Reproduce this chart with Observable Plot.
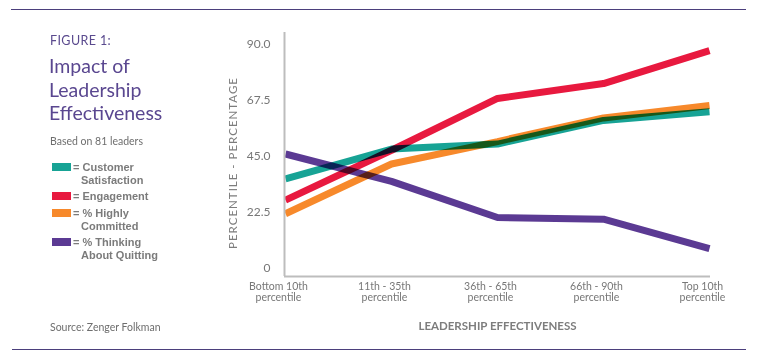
<!DOCTYPE html>
<html>
<head>
<meta charset="utf-8">
<script src="https://cdn.jsdelivr.net/npm/d3@7"></script>
<script src="https://cdn.jsdelivr.net/npm/@observablehq/plot@0.6"></script>
<style>
  body { margin: 0; background: #fff; }
  #wrap { position: relative; width: 769px; height: 363px; overflow: hidden; font-family: Lato, "Open Sans", sans-serif; }
  #wrap svg.plot { position: absolute; left: 0; top: 0; }
  .abs { position: absolute; white-space: nowrap; }
  .rule { position: absolute; height: 1px; background: #4b3f7c; }
  .fig { left: 50px; top: 33px; font-size: 12.5px; color: #5a4a8e; letter-spacing: 0.4px; }
  .title { left: 49px; top: 54px; font-size: 19.5px; line-height: 23.5px; color: #5a4790; }
  .sub { left: 50px; top: 135px; font-size: 10.5px; color: #6e6e6e; }
  .legt { font-family: "Liberation Sans", Arial, sans-serif; font-size: 11px; font-weight: 700; color: #7b7b7b; line-height: 12px; }
  .sw { position: absolute; left: 52px; width: 19px; height: 8px; }
  .src { left: 50px; top: 321px; font-size: 10.5px; color: #6e6e6e; }
  .ylab { left: 232px; top: 163px; transform: translate(-50%, -50%) rotate(-90deg); font-size: 11.5px; color: #7d7d7d; letter-spacing: 1px; }
</style>
</head>
<body>
<div id="wrap"></div>
<script>
const categories = ["Bottom 10th\npercentile", "11th - 35th\npercentile", "36th - 65th\npercentile", "66th - 90th\npercentile", "Top 10th\npercentile"];
const customerSatisfaction = [36, 48, 50, 59.5, 63];
const engagement = [27.5, 47.5, 68.3, 74.3, 87.5];
const highlyCommitted = [22, 42, 51, 60.5, 65.5];
const thinkingQuitting = [46, 35, 20.5, 19.8, 8];
const yTicks = [0, 22.5, 45, 67.5, 90];
const seriesNames = ["Customer Satisfaction", "Engagement", "% Highly Committed", "% Thinking About Quitting"];
const seriesColors = ["#17a395", "#e8193f", "#f7892b", "#5b3a93"];
const seriesValues = [customerSatisfaction, engagement, highlyCommitted, thinkingQuitting];
const legendLines = [["= Customer", "Satisfaction"], ["= Engagement"], ["= % Highly", "Committed"], ["= % Thinking", "About Quitting"]];

const rows = seriesNames.flatMap((s, i) => categories.map((c, j) => ({series: s, cat: c, value: seriesValues[i][j]})));

const chart = Plot.plot({
  width: 769,
  height: 363,
  marginLeft: 284,
  marginRight: 59,
  marginTop: 32,
  marginBottom: 87,
  style: {fontFamily: "Lato, 'Open Sans', sans-serif", color: "#7a7a7a", background: "transparent"},
  x: {type: "point", domain: categories, padding: 0, inset: 1, label: null},
  y: {domain: [-3.2, 94.8], label: null},
  color: {domain: seriesNames, range: seriesColors},
  marks: [
    Plot.axisX({ticks: categories, tickSize: 0, tickPadding: 6, fontSize: 10.5, dx: -7, stroke: null, fill: "#777", lineHeight: 1.05}),
    Plot.axisY({ticks: yTicks, tickSize: 0, tickPadding: 14, fontSize: 12, fill: "#777", tickFormat: d => d === 0 ? "0" : d.toFixed(1)}),
    Plot.line(rows, {x: "cat", y: "value", z: "series", stroke: "series", strokeWidth: 7, strokeLinecap: "butt", strokeLinejoin: "miter", mixBlendMode: "multiply"}),
    Plot.ruleY([-3.2], {stroke: "#bdbdbd", strokeWidth: 2}),
    Plot.ruleX([categories[0]], {y1: -3.2, y2: 94.8, stroke: "#bdbdbd", strokeWidth: 2, dx: -1}),
    Plot.text(["LEADERSHIP EFFECTIVENESS"], {frameAnchor: "bottom", dy: 53, fontSize: 11.5, fontWeight: 700, fill: "#7d7d7d", letterSpacing: "0.5px"})
  ]
});
chart.classList.add("plot");
const wrap = document.getElementById("wrap");
wrap.appendChild(chart);

function add(cls, html, style) {
  const d = document.createElement("div");
  d.className = cls;
  d.innerHTML = html;
  if (style) Object.assign(d.style, style);
  wrap.appendChild(d);
  return d;
}
add("rule", "", {left: "11px", top: "9px", width: "735px"});
add("rule", "", {left: "12px", top: "349px", width: "734px"});
add("abs fig", "FIGURE 1:");
add("abs title", "Impact of<br>Leadership<br>Effectiveness");
add("abs sub", "Based on 81 leaders");
add("abs ylab", "PERCENTILE - PERCENTAGE");
const legTops = [161, 190, 207, 236];
const legIndent = [0, 8];
legendLines.forEach((lines, i) => {
  add("sw", "", {background: seriesColors[i], top: (legTops[i] + 2) + "px"});
  lines.forEach((l, k) => {
    add("abs legt", l, {left: (73 + legIndent[k]) + "px", top: (legTops[i] + k * 12.8) + "px"});
  });
});
add("abs src", "Source: Zenger Folkman");
</script>
</body>
</html>
